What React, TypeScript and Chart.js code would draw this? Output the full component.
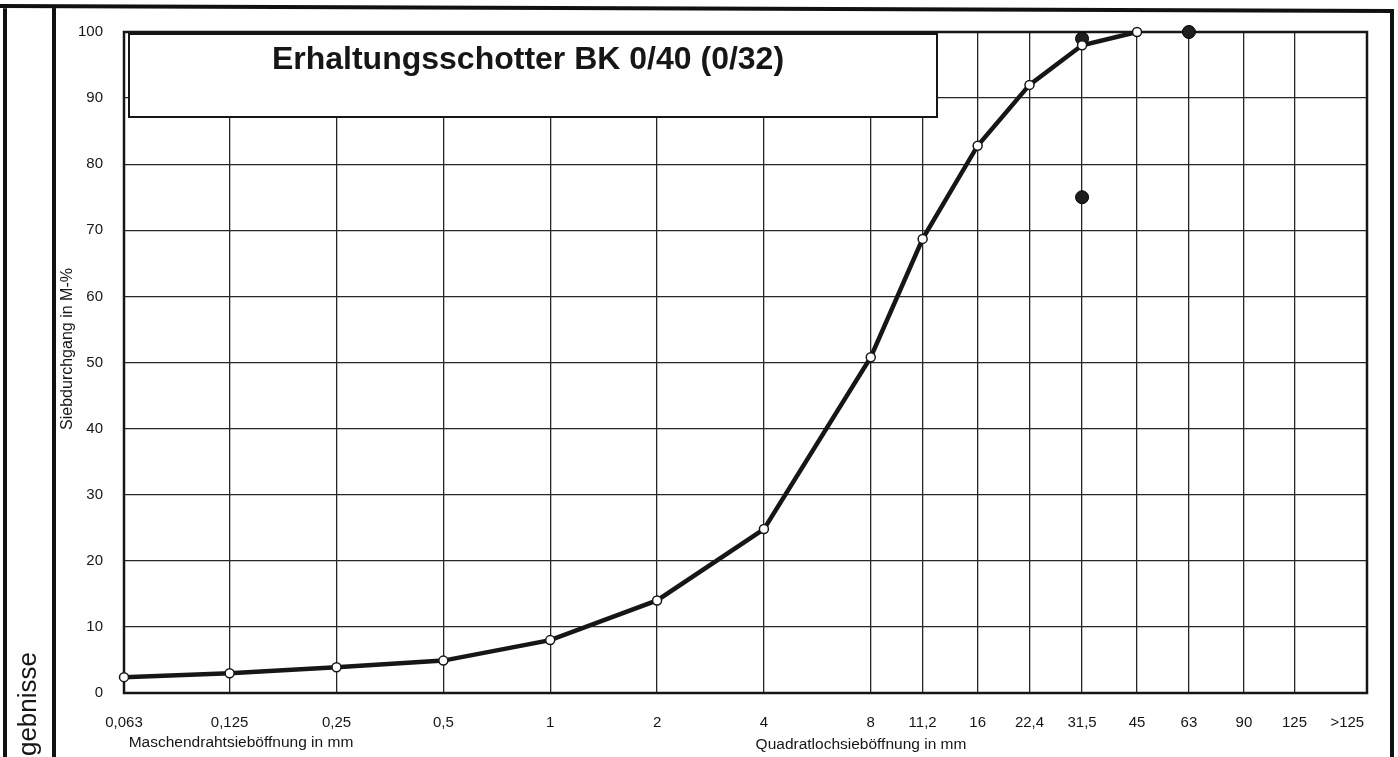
import React, { useEffect, useRef } from "react";
import { Chart, registerables } from "chart.js";

Chart.register(...registerables);

// ---- data ----
const sieveSizes = [0.063, 0.125, 0.25, 0.5, 1, 2, 4, 8, 11.2, 16, 22.4, 31.5, 45];
const passing = [2.4, 3.0, 3.9, 4.9, 8.0, 14.0, 24.8, 50.8, 68.7, 82.8, 92.0, 98.0, 100];
const limitSizes = [31.5, 31.5, 63];
const limitValues = [99, 75, 100];
const xTickValues = [0.063, 0.125, 0.25, 0.5, 1, 2, 4, 8, 11.2, 16, 22.4, 31.5, 45, 63, 90, 125, 176];
const xTickLabels = ["0,063", "0,125", "0,25", "0,5", "1", "2", "4", "8", "11,2", "16", "22,4", "31,5", "45", "63", "90", "125", ">125"];
const OVER_TICK = 176;
const yTickStep = 10;
const titleText = "Erhaltungsschotter BK 0/40 (0/32)";
const yTitleText = "Siebdurchgang in M-%";
const xTitleLeft = "Maschendrahtsieböffnung in mm";
const xTitleRight = "Quadratlochsieböffnung in mm";
const sideText = "gebnisse";

const FONT = '"Liberation Sans", Arial, sans-serif';
const INK = "#161616";

const decorPlugin = {
  id: "decor",
  beforeDatasetsDraw(chart: any) {
    const { ctx, chartArea } = chart;
    const { left, top, right, bottom } = chartArea;
    ctx.save();
    // plot border
    ctx.strokeStyle = INK;
    ctx.lineWidth = 2.5;
    ctx.strokeRect(left, top, right - left, bottom - top);
    // title box
    const bx = left + 5;
    const by = top + 2;
    const bw = 937 - bx;
    const bh = 117 - by;
    ctx.fillStyle = "#ffffff";
    ctx.fillRect(bx, by, bw, bh);
    ctx.lineWidth = 2;
    ctx.strokeRect(bx, by, bw, bh);
    ctx.fillStyle = INK;
    ctx.font = `bold 32px ${FONT}`;
    ctx.textAlign = "center";
    ctx.textBaseline = "alphabetic";
    ctx.fillText(titleText, 528, 69);
    ctx.restore();
  },
  afterDraw(chart: any) {
    const { ctx } = chart;
    ctx.save();
    ctx.strokeStyle = "#111";
    ctx.lineWidth = 4;
    ctx.beginPath();
    ctx.moveTo(0, 6);
    ctx.lineTo(1394, 11);
    ctx.moveTo(5, 4);
    ctx.lineTo(5, 757);
    ctx.moveTo(54, 5);
    ctx.lineTo(54, 757);
    ctx.moveTo(1392, 10);
    ctx.lineTo(1392, 757);
    ctx.stroke();

    ctx.fillStyle = INK;
    // y axis title
    ctx.save();
    ctx.translate(68, 349);
    ctx.rotate(-Math.PI / 2);
    ctx.font = `16px ${FONT}`;
    ctx.textAlign = "center";
    ctx.textBaseline = "middle";
    ctx.fillText(yTitleText, 0, 0);
    ctx.restore();

    // x titles
    ctx.font = `15.5px ${FONT}`;
    ctx.textAlign = "center";
    ctx.textBaseline = "middle";
    ctx.fillText(xTitleLeft, 241, 743);
    ctx.fillText(xTitleRight, 861, 745);

    // side text
    ctx.save();
    ctx.translate(36, 652);
    ctx.rotate(-Math.PI / 2);
    ctx.font = `26px ${FONT}`;
    ctx.textAlign = "right";
    ctx.textBaseline = "alphabetic";
    ctx.fillText(sideText, 0, 0);
    ctx.restore();
    ctx.restore();
  },
};

export default function App() {
  const canvasRef = useRef<HTMLCanvasElement | null>(null);

  useEffect(() => {
    const canvas = canvasRef.current;
    if (!canvas) return;
    const chart = new Chart(canvas, {
      type: "line",
      data: {
        datasets: [
          {
            label: "Sieblinie",
            data: sieveSizes.map((x, i) => ({ x, y: passing[i] })),
            borderColor: INK,
            borderWidth: 4.5,
            pointRadius: 4.5,
            pointBackgroundColor: "#ffffff",
            pointBorderColor: INK,
            pointBorderWidth: 1.5,
            tension: 0,
            clip: false,
            order: 0,
          } as any,
          {
            label: "Grenzwerte",
            data: limitSizes.map((x, i) => ({ x, y: limitValues[i] })),
            showLine: false,
            pointRadius: 6.5,
            pointBackgroundColor: "#1e1e1e",
            pointBorderColor: "#000",
            pointBorderWidth: 1,
            clip: false,
            order: 1,
          } as any,
        ],
      },
      options: {
        responsive: false,
        animation: false,
        events: [],
        layout: { padding: { left: 0, top: 32, right: 31, bottom: 0 } },
        plugins: {
          legend: { display: false },
          tooltip: { enabled: false },
          title: { display: false },
        },
        scales: {
          x: {
            type: "logarithmic",
            min: 0.063,
            max: 200,
            afterBuildTicks: (scale: any) => {
              scale.ticks = xTickValues.map((v) => ({ value: v }));
            },
            afterFit: (scale: any) => {
              scale.height = 64;
            },
            border: { display: false },
            grid: {
              drawTicks: false,
              lineWidth: 1.3,
              color: (c: any) => (c.tick && c.tick.value === OVER_TICK ? "rgba(0,0,0,0)" : "#262626"),
            },
            ticks: {
              autoSkip: false,
              maxRotation: 0,
              minRotation: 0,
              padding: 21,
              color: INK,
              font: { family: FONT, size: 15 },
              callback: (_v: any, i: number) => xTickLabels[i],
            },
          },
          y: {
            type: "linear",
            min: 0,
            max: 100,
            afterFit: (scale: any) => {
              scale.width = 124;
            },
            border: { display: false },
            grid: { drawTicks: false, lineWidth: 1.3, color: "#262626" },
            ticks: {
              stepSize: yTickStep,
              padding: 21,
              color: INK,
              font: { family: FONT, size: 15 },
            },
          },
        },
      },
      plugins: [decorPlugin],
    } as any);
    return () => chart.destroy();
  }, []);

  return (
    <div style={{ position: "absolute", left: 0, top: 0, width: 1398, height: 757, background: "#fff" }}>
      <canvas ref={canvasRef} width={1398} height={757} style={{ display: "block" }} />
    </div>
  );
}
